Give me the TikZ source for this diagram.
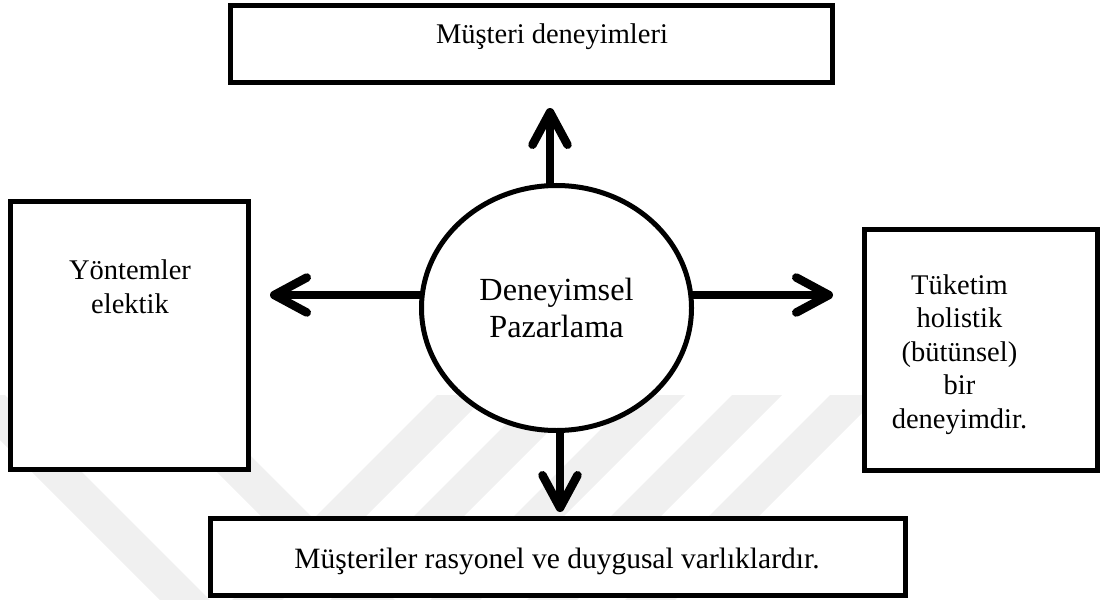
\documentclass[tikz,border=0pt]{standalone}
\usepackage{fontspec}
\setmainfont{Liberation Serif}
\usetikzlibrary{positioning,shapes.geometric,arrows.meta}

\tikzset{
  kutu/.style={draw, line width=2pt, fill=white, inner sep=0pt},
  yazi/.style={font=\fontsize{11.4}{13.4}\selectfont, align=center, inner sep=0pt},
  ok/.style={line width=3.4pt, -{Straight Barb[length=13pt,width=14pt,round]},
    preaction={draw=black!35, transform canvas={shift={(1pt,-1.2pt)}}}},
  filigran/.style={fill=black!6, draw=none}
}

\begin{document}
\begin{tikzpicture}[x=0.4pt, y=-0.4pt]
\useasboundingbox (0,0) rectangle (1101,600);

% Watermark strips
\foreach \c in {-20,165}
  \fill[filigran] (\c-25,395) -- (\c+25,395) -- (\c+230,600) -- (\c+180,600) -- cycle;
\foreach \c in {462,560,660,757,855}
  \fill[filigran] (\c-25,395) -- (\c+25,395) -- (\c-180,600) -- (\c-230,600) -- cycle;

% Boxes
\node[kutu, minimum width=240.8pt, minimum height=30.8pt] (deneyim) at (531.5,44) {};
\node[yazi, anchor=base] (deneyimtxt) at (552,44) {Müşteri deneyimleri};

\node[kutu, minimum width=95.2pt, minimum height=107.2pt] (yontem) at (129.5,335.5) {};
\node[yazi, anchor=north] (yontemtxt) at (130,259.5) {Yöntemler\\elektik};

\node[kutu, minimum width=93.2pt, minimum height=96.4pt] (tuketim) at (981,350) {};
\node[yazi, anchor=north] (tuketimtxt) at (959.5,274) {Tüketim\\holistik\\(bütünsel)\\bir\\deneyimdir.};

\node[kutu, minimum width=278pt, minimum height=30.8pt] (varlik) at (558,557) {};
\node[yazi, anchor=base, font=\fontsize{11.8}{13.4}\selectfont] (varliktxt) at (557,568)
  {Müşteriler rasyonel ve duygusal varlıklardır.};

% Arrows
\coordinate (ustuc) at (550,108);
\coordinate (soluc) at (270,295);
\coordinate (saguc) at (833,295);
\coordinate (altuc) at (560,512);

\node[ellipse, minimum width=108pt, minimum height=98pt] (merkez) at (556.5,308) {};

\draw[ok] (ustuc |- merkez.north) -- (ustuc);
\draw[ok] (soluc -| merkez.west) -- (soluc);
\draw[ok] (saguc -| merkez.east) -- (saguc);
\draw[ok] (altuc |- merkez.south) -- (altuc);

% Centre circle
\node[ellipse, draw, line width=2pt, fill=white, minimum width=108pt, minimum height=98pt,
  yazi, font=\fontsize{12.9}{14.8}\selectfont] (merkeztxt) at (merkez) {Deneyimsel\\Pazarlama};

\end{tikzpicture}
\end{document}
